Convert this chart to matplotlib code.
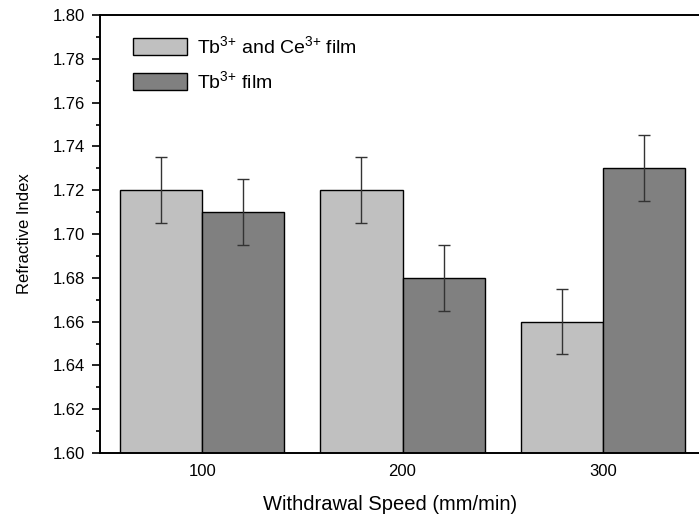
import matplotlib
matplotlib.use("Agg")
import matplotlib.pyplot as plt
import numpy as np
from matplotlib.ticker import MultipleLocator

plt.rcParams['font.family'] = ['Liberation Sans', 'DejaVu Sans']
plt.rcParams['mathtext.fontset'] = 'custom'
plt.rcParams['mathtext.rm'] = 'Liberation Sans'
plt.rcParams['mathtext.it'] = 'Liberation Sans'

speeds = [100, 200, 300]
tbce_values = [1.72, 1.72, 1.66]
tb_values = [1.71, 1.68, 1.73]
tbce_err = [0.015, 0.015, 0.015]
tb_err = [0.015, 0.015, 0.015]
series_labels = [r'Tb$^{\mathregular{3\!+}}\!$ and Ce$^{\mathregular{3\!+}}\!$ film',
                 r'Tb$^{\mathregular{3\!+}}\!$ film']
yticks = [1.60, 1.62, 1.64, 1.66, 1.68, 1.70, 1.72, 1.74, 1.76, 1.78, 1.80]

fig = plt.figure(figsize=(6.99, 5.23), dpi=100)
ax = fig.add_axes([100/699, 1-453/523, 599/699, 438/523])

x = np.array(speeds, dtype=float)
w = 41
ax.bar(x - w/2, tbce_values, width=w, color='#c0c0c0', edgecolor='black', linewidth=1,
       yerr=tbce_err, capsize=4, error_kw=dict(ecolor='#333333', elinewidth=1, capthick=1),
       label=series_labels[0], zorder=2)
ax.bar(x + w/2, tb_values, width=w, color='#808080', edgecolor='black', linewidth=1,
       yerr=tb_err, capsize=4, error_kw=dict(ecolor='#333333', elinewidth=1, capthick=1),
       label=series_labels[1], zorder=2)

ax.set_xlim(49, 348)
ax.set_ylim(1.60, 1.80)
ax.set_yticks(yticks)
ax.set_yticklabels([f"{v:.2f}" for v in yticks])
ax.yaxis.set_minor_locator(MultipleLocator(0.01))
ax.set_xticks(speeds)
ax.set_xticklabels([str(s) for s in speeds])
ax.tick_params(axis='y', which='major', direction='out', length=6, width=1.2, labelsize=12, pad=5)
ax.tick_params(axis='y', which='minor', direction='out', length=3, width=1.2)
ax.tick_params(axis='x', length=0, labelsize=12, pad=8)
ax.spines['right'].set_visible(False)
for s in ['left', 'top', 'bottom']:
    ax.spines[s].set_linewidth(1.4)

ax.set_xlabel('Withdrawal Speed (mm/min)', fontsize=14.5, labelpad=12)
ax.xaxis.set_label_coords(0.484, -0.095)
ax.set_ylabel('Refractive Index', fontsize=12, labelpad=15)

ax.legend(loc='upper left', bbox_to_anchor=(0.035, 0.98), frameon=False, fontsize=14,
          handlelength=2.8, handleheight=0.95, handletextpad=0.5, labelspacing=0.68,
          borderaxespad=0.2)

fig.savefig('out.png', dpi=100)
